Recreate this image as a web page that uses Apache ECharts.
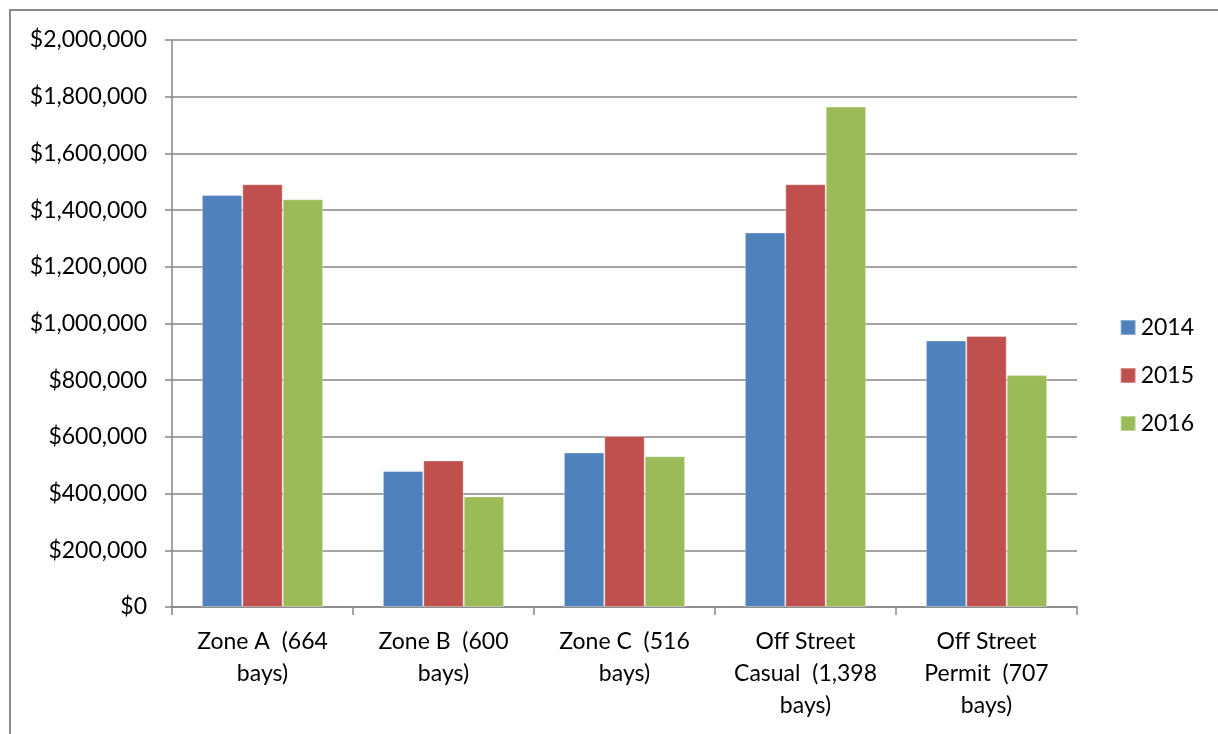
<!DOCTYPE html>
<html>
<head>
<meta charset="utf-8">
<script src="https://cdn.jsdelivr.net/npm/echarts@6/dist/echarts.min.js"></script>
<style>
  html, body { margin: 0; padding: 0; background: #fff; }
  #chart { width: 1218px; height: 734px; }
</style>
</head>
<body>
<div id="chart"></div>
<script>
// categories and yearly revenue values
var categories = [
  'Zone A  (664\nbays)',
  'Zone B  (600\nbays)',
  'Zone C  (516\nbays)',
  'Off Street\nCasual  (1,398\nbays)',
  'Off Street\nPermit  (707\nbays)'
];
var years = ['2014', '2015', '2016'];
var values2014 = [1453000, 480000, 545000, 1321000, 940000];
var values2015 = [1491000, 517000, 603000, 1491000, 956000];
var values2016 = [1438000, 390000, 532000, 1765000, 818000];
var colors = ['#4F81BD', '#C0504D', '#9BBB59'];

var fontName = 'Lato, "Open Sans", sans-serif';

var chart = echarts.init(document.getElementById('chart'));

function makeSeries(name, data, color) {
  return {
    name: name,
    type: 'bar',
    data: data,
    barGap: '0%',
    barCategoryGap: '33%',
    itemStyle: {
      color: color,
      borderColor: 'rgba(255,255,255,0.35)',
      borderWidth: 1
    }
  };
}

chart.setOption({
  animation: false,
  textStyle: { fontFamily: fontName },
  graphic: [{
    type: 'rect',
    shape: { x: 10, y: 10, width: 1230, height: 760 },
    style: { fill: 'none', stroke: '#8a8a8a', lineWidth: 2 },
    silent: true
  }],
  grid: { left: 172, right: 141, top: 40, bottom: 127 },
  legend: {
    orient: 'vertical',
    right: 19,
    top: 311,
    itemWidth: 15,
    itemHeight: 15,
    itemGap: 25,
    icon: 'rect',
    textStyle: { fontSize: 23, color: '#000', fontFamily: fontName },
    data: years
  },
  xAxis: {
    type: 'category',
    data: categories,
    axisLine: { lineStyle: { color: '#868686', width: 1.5 } },
    axisTick: { show: true, length: 8, lineStyle: { color: '#868686', width: 1.5 } },
    axisLabel: {
      interval: 0,
      margin: 19,
      fontSize: 23,
      lineHeight: 32,
      color: '#000',
      fontFamily: fontName
    }
  },
  yAxis: {
    type: 'value',
    min: 0,
    max: 2000000,
    interval: 200000,
    axisLine: { show: true, lineStyle: { color: '#868686', width: 1.5 } },
    axisTick: { show: true, length: 7, lineStyle: { color: '#868686', width: 1.5 } },
    splitLine: { lineStyle: { color: '#868686', width: 1.5 } },
    axisLabel: {
      margin: 25,
      fontSize: 23,
      color: '#000',
      fontFamily: fontName,
      formatter: function (v) {
        return '$' + v.toLocaleString('en-US');
      }
    }
  },
  series: [
    makeSeries(years[0], values2014, colors[0]),
    makeSeries(years[1], values2015, colors[1]),
    makeSeries(years[2], values2016, colors[2])
  ]
});
</script>
</body>
</html>
